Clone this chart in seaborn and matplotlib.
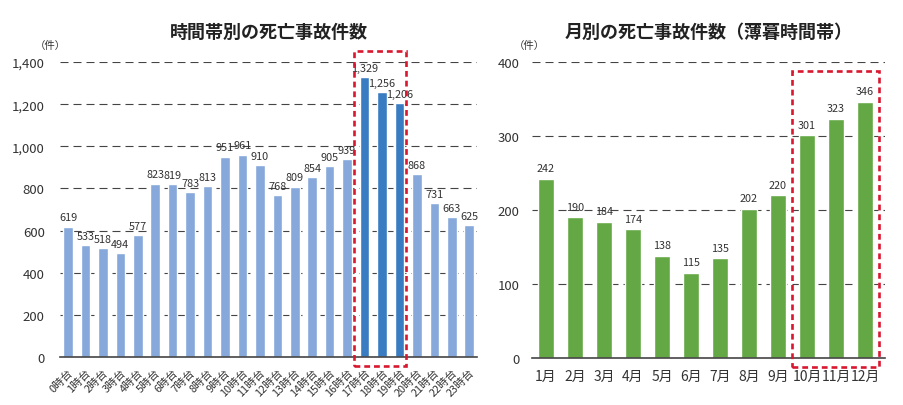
import numpy as np
import pandas as pd
import matplotlib
matplotlib.use('Agg')
import matplotlib.pyplot as plt
from matplotlib.patches import Rectangle
import seaborn as sns

# DATA
hours = [f'{h}時台' for h in range(24)]
hour_counts = [619, 533, 518, 494, 577, 823, 819, 783, 813, 951, 961, 910,
               768, 809, 854, 905, 939, 1329, 1256, 1206, 868, 731, 663, 625]
dusk_hours = ['17時台', '18時台', '19時台']

months = [f'{m}月' for m in range(1, 13)]
month_counts = [242, 190, 184, 174, 138, 115, 135, 202, 220, 301, 323, 346]
dusk_months = ['10月', '11月', '12月']

# STYLE
sns.set_theme(style='white')
plt.rcParams['font.family'] = ['Noto Sans CJK JP', 'DejaVu Sans']

light_blue = '#87a8da'
dark_blue = '#3a7cc2'
green = '#63a844'
red = '#d9172f'
text_col = '#333333'


def style_axis(ax, ymax, step, unit_x):
	ax.set_ylim(0, ymax)
	ax.set_yticks(np.arange(0, ymax + 1, step))
	for y in np.arange(step, ymax + 1, step):
		ax.axhline(y, color='#444444', lw=0.8, dashes=(7.2, 4.5), zorder=0)
	for s in ['left', 'right', 'top']:
		ax.spines[s].set_visible(False)
	ax.spines['bottom'].set_color('#444444')
	ax.spines['bottom'].set_linewidth(1.2)
	ax.tick_params(axis='both', length=0, colors=text_col)
	ax.set_xlabel('')
	ax.set_ylabel('')
	# unit label, placed in figure pixels
	fig.text(unit_x / 904, 1 - 46 / 406, '（件）', fontsize=7.5,
		color=text_col, ha='center', va='center')


def add_box(ax, x0, x1, y0, y1):
	rect = Rectangle((x0, y0), x1 - x0, y1 - y0, fill=False, edgecolor=red,
		lw=1.9, linestyle=(0, (2.2, 1.5)), clip_on=False, zorder=5)
	ax.add_patch(rect)


fig = plt.figure(figsize=(9.04, 4.06), dpi=100)

# LEFT - BY HOUR
ax1 = fig.add_axes([0.0664, 0.1182, 0.4613, 0.7266])
df_h = pd.DataFrame({'hour': hours, 'count': hour_counts})
pal_h = [dark_blue if h in dusk_hours else light_blue for h in hours]
sns.barplot(data=df_h, x='hour', y='count', hue='hour', palette=pal_h,
	legend=False, width=0.55, saturation=1, ax=ax1)
style_axis(ax1, 1400, 200, 50)
ax1.set_yticklabels([f'{v:,}' for v in range(0, 1401, 200)], fontsize=9.5)
ax1.tick_params(axis='y', pad=11)
ax1.set_xlim(-0.46, 23.45)
ax1.set_xticks(range(len(hours)))
ax1.set_xticklabels(hours, rotation=45, ha='right', rotation_mode='anchor',
	fontsize=7.8)
ax1.tick_params(axis='x', pad=7)
for i, v in enumerate(hour_counts):
	ax1.annotate(f'{v:,}', (i, v), xytext=(0, 3), textcoords='offset points',
		ha='center', va='bottom', fontsize=7.8, color=text_col)
add_box(ax1, 16.4, 19.37, -43, 1451)
ax1.set_title('時間帯別の死亡事故件数', fontsize=13, fontweight='bold',
	color='#222222', pad=18)

# RIGHT - BY MONTH
ax2 = fig.add_axes([0.5885, 0.1158, 0.3905, 0.729])
df_m = pd.DataFrame({'month': months, 'count': month_counts})
sns.barplot(data=df_m, x='month', y='count', color=green, width=0.54,
	saturation=1, ax=ax2)
style_axis(ax2, 400, 100, 529)
ax2.set_yticklabels([str(v) for v in range(0, 401, 100)], fontsize=9.5)
ax2.tick_params(axis='y', pad=9)
ax2.set_xlim(-0.48, 11.69)
ax2.tick_params(axis='x', labelsize=10, pad=8)
for i, v in enumerate(month_counts):
	ax2.annotate(str(v), (i, v), xytext=(0, 4), textcoords='offset points',
		ha='center', va='bottom', fontsize=7.8, color=text_col)
add_box(ax2, 8.48, 11.48, -12, 388)
ax2.set_title('月別の死亡事故件数（薄暮時間帯）', fontsize=13, fontweight='bold',
	color='#222222', pad=18)

plt.savefig('out.png', dpi=100)
